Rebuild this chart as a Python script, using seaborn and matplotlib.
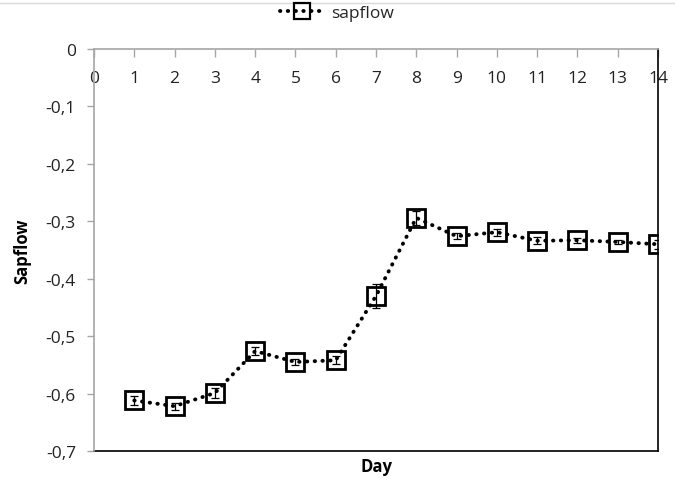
import matplotlib
matplotlib.use("Agg")
import matplotlib.pyplot as plt
from matplotlib.lines import Line2D
import seaborn as sns
import pandas as pd

days = [1, 2, 3, 4, 5, 6, 7, 8, 9, 10, 11, 12, 13, 14]
sapflow = [-0.612, -0.622, -0.599, -0.526, -0.545, -0.542, -0.430,
           -0.294, -0.326, -0.319, -0.334, -0.333, -0.336, -0.340]
sapflow_err = [0.008, 0.006, 0.008, 0.007, 0.005, 0.007, 0.021,
               0.012, 0.005, 0.006, 0.006, 0.004, 0.003, 0.008]
x_ticks = list(range(0, 15))
y_ticks = [0, -0.1, -0.2, -0.3, -0.4, -0.5, -0.6, -0.7]
y_tick_labels = ["0", "-0,1", "-0,2", "-0,3", "-0,4", "-0,5", "-0,6", "-0,7"]

sns.set_theme(style="white")
plt.rcParams['font.family'] = ['Open Sans', 'DejaVu Sans']

df = pd.DataFrame({"Day": days, "Sapflow": sapflow})

fig = plt.figure(figsize=(6.75, 4.81), dpi=100)
ax = fig.add_axes([94 / 675, 1 - 452 / 481, (658 - 94) / 675, (452 - 50) / 481])

LS = (0, (0.1, 1.9))

ax.errorbar(days, sapflow, yerr=sapflow_err, fmt="none", ecolor="black",
            elinewidth=0.9, capsize=3, capthick=0.9, zorder=4)
sns.lineplot(data=df, x="Day", y="Sapflow", ax=ax, color="black",
             linestyle=LS, linewidth=2.8,
             dash_capstyle="round", marker="s", markersize=12.5,
             markerfacecolor="none", markeredgecolor="black",
             markeredgewidth=2.0, label="sapflow", zorder=3, legend=False)

ax.set_xlim(0, 14)
ax.set_ylim(-0.7, 0)
ax.set_xticks(x_ticks)
ax.set_xticklabels([str(t) for t in x_ticks])
ax.set_yticks(y_ticks)
ax.set_yticklabels(y_tick_labels)

ax.xaxis.tick_top()
ax.tick_params(axis="x", direction="in", length=6, width=1, color="#a6a6a6",
               labelsize=12.5, labelcolor="#222222", pad=-27)
ax.tick_params(axis="y", direction="out", length=5, width=1, color="#a6a6a6",
               labelsize=12.5, labelcolor="#222222", pad=8, left=True)

for side in ["left", "top"]:
    ax.spines[side].set_color("#a6a6a6")
    ax.spines[side].set_linewidth(1.2)
    ax.spines[side].set_zorder(5)
for side in ["right", "bottom"]:
    ax.spines[side].set_color("black")
    ax.spines[side].set_linewidth(1.2)

ax.set_xlabel("")
ax.set_ylabel("Sapflow", fontsize=12, fontweight="bold", color="black")
ax.yaxis.set_label_coords((31 - 94) / 564, 0.5)
fig.text((94 + 658) / 2 / 675, 1 - 467 / 481, "Day", ha="center", va="center",
         fontsize=12, fontweight="bold", color="black")

handle = Line2D([], [], color="black", linestyle=LS, linewidth=2.8,
                dash_capstyle="round", marker="s", markersize=11,
                markerfacecolor="none", markeredgecolor="black", markeredgewidth=1.6)
fig.legend([handle], ["sapflow"], loc="center", bbox_to_anchor=(337 / 675, 1 - 14 / 481),
           frameon=False, fontsize=12.5, handlelength=2.6, handletextpad=0.4)

fig.add_artist(Line2D([0, 1], [1 - 4 / 481, 1 - 4 / 481], color="#d9d9d9", linewidth=1))

fig.savefig("out.png", dpi=100)
